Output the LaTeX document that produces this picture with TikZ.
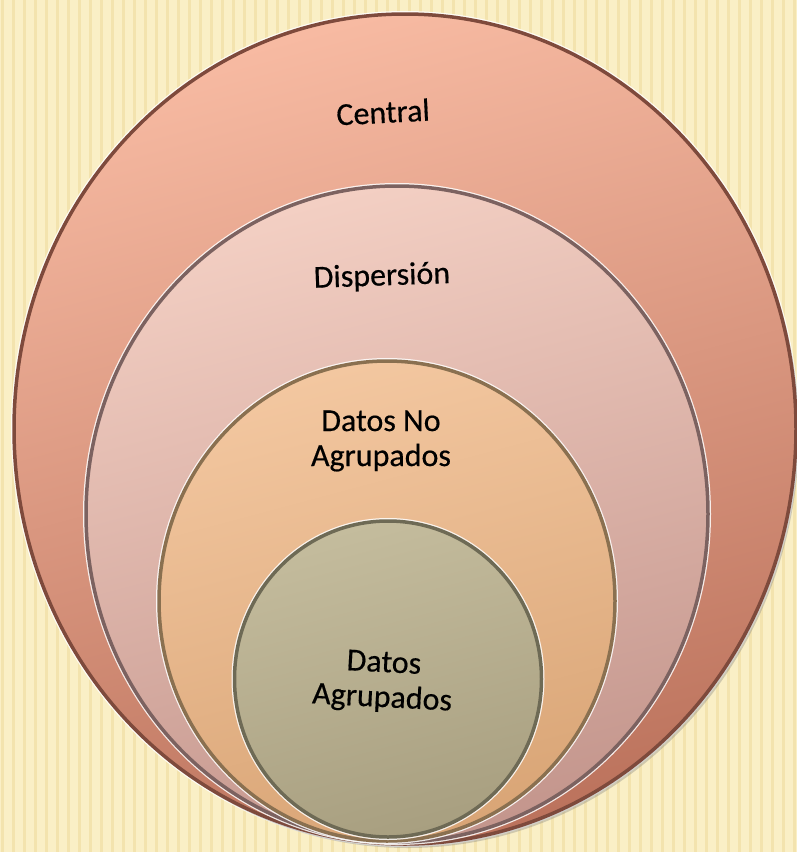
\documentclass[tikz,border=0pt]{standalone}
\usepackage{fontspec}
\setmainfont{Carlito}
\usetikzlibrary{shapes.geometric,shadows}
\definecolor{bgyellow}{HTML}{FAEFC6}
\definecolor{stripecol}{HTML}{F3E3AE}
\definecolor{cAtop}{HTML}{F7BAA2}
\definecolor{cAbot}{HTML}{BC735D}
\definecolor{cArim}{HTML}{7E4A3C}
\definecolor{cBtop}{HTML}{F3CFC3}
\definecolor{cBbot}{HTML}{C4968D}
\definecolor{cBrim}{HTML}{7C6260}
\definecolor{cCtop}{HTML}{F3C7A0}
\definecolor{cCbot}{HTML}{D9A576}
\definecolor{cCrim}{HTML}{8A7050}
\definecolor{cDtop}{HTML}{C4BC9D}
\definecolor{cDbot}{HTML}{A89F80}
\definecolor{cDrim}{HTML}{6E6A55}
\tikzset{
  ring/.style={ellipse, inner sep=0pt, outer sep=0pt, line width=3.5pt,
    preaction={draw=white, line width=6pt, opacity=0.85}},
  lbl/.style={font=\fontsize{32}{35}\selectfont\addfontfeature{FakeBold=0.4}, text=black, align=center, inner sep=0pt},
  stripe/.style={draw=stripecol, line width=3pt}
}
\begin{document}
\begin{tikzpicture}[x=1pt,y=-1pt]
\useasboundingbox (0,0) rectangle (797,852);
\fill[bgyellow] (0,0) rectangle (797,852);
\foreach \x in {2,13,...,800} \draw[stripe] (\x,0) -- (\x,852);
\node[ring, minimum width=782pt, minimum height=830pt, draw=cArim,
  top color=cAtop, bottom color=cAbot, shading angle=15,
  drop shadow={opacity=0.35, shadow xshift=3pt, shadow yshift=-4pt}] (c1) at (405,429) {};
\node[ring, minimum width=622pt, minimum height=656pt, draw=cBrim,
  top color=cBtop, bottom color=cBbot, shading angle=15] (c2) at (397,514) {};
\node[ring, minimum width=456pt, minimum height=480pt, draw=cCrim,
  top color=cCtop, bottom color=cCbot, shading angle=15] (c3) at (387,601) {};
\node[ring, minimum width=307pt, minimum height=316pt, draw=cDrim,
  top color=cDtop, bottom color=cDbot, shading angle=15] (c4) at (388,679) {};
\node[lbl, rotate=3] (t1) at (383,112) {Central};
\node[lbl, rotate=2] (t2) at (382,277) {Dispersión};
\node[lbl] (t3) at (381,441) {Datos No\\Agrupados};
\node[lbl, rotate=-3] (t4) at (383,682) {Datos\\Agrupados};
\end{tikzpicture}
\end{document}
